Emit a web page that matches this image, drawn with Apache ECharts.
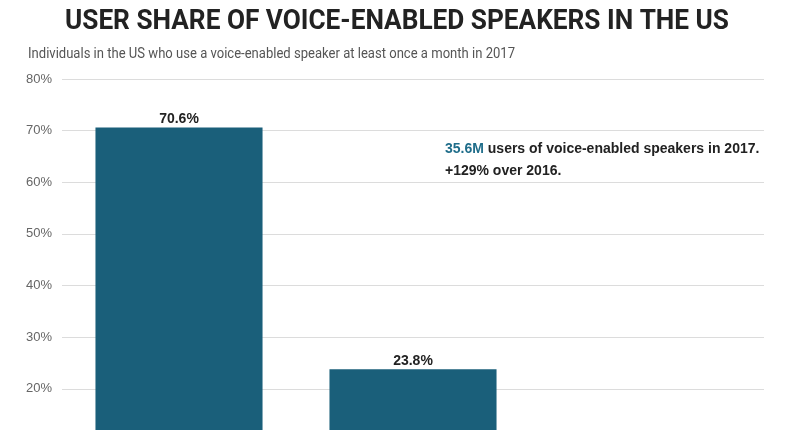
<!DOCTYPE html>
<html><head><meta charset="utf-8">
<script src="https://cdn.jsdelivr.net/npm/echarts@6/dist/echarts.min.js"></script>
<style>html,body{margin:0;padding:0;background:#fff}#c{width:790px;height:430px}</style>
</head><body><div id="c"></div>
<script>
const categories = ['Amazon Echo', 'Google Home', 'Other'];
const shares = [70.6, 23.8, 5.6];
const yTicks = [0, 10, 20, 30, 40, 50, 60, 70, 80];
const titleText = 'USER SHARE OF VOICE-ENABLED SPEAKERS IN THE US';
const subtitleText = 'Individuals in the US who use a voice-enabled speaker at least once a month in 2017';
const noteHighlight = '35.6M';
const noteLine1 = ' users of voice-enabled speakers in 2017.';
const noteLine2 = '+129% over 2016.';

const titleFont = 'bold 28px Roboto';
const subFont = 'normal 14px Roboto';
function measure(text, font) {
  const ctx = document.createElement('canvas').getContext('2d');
  ctx.font = font;
  return ctx.measureText(text).width;
}
const titleScale = 664 / measure(titleText, titleFont);
const subScale = 487 / measure(subtitleText, subFont);
const sans = '"Liberation Sans", Arial, Helvetica, sans-serif';

const chart = echarts.init(document.getElementById('c'), null, {renderer: 'canvas'});
chart.setOption({
  animation: false,
  backgroundColor: '#fff',
  grid: {left: 62, right: 26, top: 79, height: 413, containLabel: false, outerBoundsMode: 'none'},
  xAxis: {
    type: 'category', data: categories,
    axisLine: {show: false}, axisTick: {show: false}, axisLabel: {show: false}
  },
  yAxis: {
    type: 'value', min: yTicks[0], max: yTicks[yTicks.length - 1], interval: 10,
    axisLine: {show: false}, axisTick: {show: false},
    splitLine: {lineStyle: {color: '#dcdcdc', width: 1}},
    axisLabel: {formatter: '{value}%', color: '#666', fontFamily: sans, fontSize: 13, margin: 10}
  },
  series: [{
    type: 'bar', data: shares, barCategoryGap: '28.6%',
    itemStyle: {color: '#1a5f7a'},
    label: {show: true, position: 'top', formatter: p => p.value.toFixed(1) + '%',
      color: '#222', fontFamily: sans, fontWeight: 'bold', fontSize: 14, distance: 1}
  }],
  graphic: [{
    type: 'text', x: 65, y: 22, scaleX: titleScale, originX: 0, originY: 0,
    style: {text: titleText, font: titleFont, fill: '#222', textAlign: 'left', textVerticalAlign: 'middle'}
  }, {
    type: 'text', x: 28, y: 54, scaleX: subScale, originX: 0, originY: 0,
    style: {text: subtitleText, font: subFont, fill: '#555', textAlign: 'left', textVerticalAlign: 'middle'}
  }, {
    type: 'text', x: 445, y: 138,
    style: {
      text: '{h|' + noteHighlight + '}{b|' + noteLine1 + '}\n{b|' + noteLine2 + '}',
      rich: {
        h: {fontFamily: sans, fontWeight: 'bold', fontSize: 14, fill: '#1f6d8a', lineHeight: 22},
        b: {fontFamily: sans, fontWeight: 'bold', fontSize: 14, fill: '#222', lineHeight: 22}
      }
    }
  }]
});
</script></body></html>
